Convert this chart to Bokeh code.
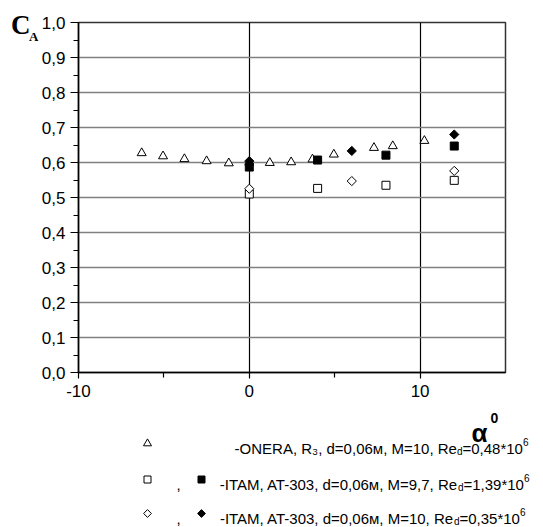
from bokeh.plotting import figure
from bokeh.models import FixedTicker, Range1d, Label, Div
from bokeh.layouts import column, row
from bokeh.embed import file_html
from bokeh.resources import INLINE

# ONERA, R3, d=0.06 m, M=10
onera_alpha = [-6.3, -5.05, -3.8, -2.5, -1.2, 0.0, 1.2, 2.45, 3.7, 4.95, 7.3, 8.4, 10.25]
onera_ca = [0.627, 0.618, 0.610, 0.604, 0.598, 0.600, 0.599, 0.601, 0.609, 0.623, 0.642, 0.647, 0.662]

# ITAM AT-303, M=9.7 (open / filled squares)
itam97_alpha = [0, 4, 8, 12]
itam97_ca_open = [0.510, 0.526, 0.535, 0.549]
itam97_ca_filled = [0.587, 0.607, 0.621, 0.647]

# ITAM AT-303, M=10 (open / filled diamonds)
itam10_alpha = [0, 6, 12]
itam10_ca_open = [0.525, 0.547, 0.576]
itam10_ca_filled = [0.604, 0.633, 0.680]

x_ticks = [-10, 0, 10]
x_tick_labels = ["-10", "0", "10"]
x_minor_ticks = [-5, 5]
y_ticks = [0.0, 0.1, 0.2, 0.3, 0.4, 0.5, 0.6, 0.7, 0.8, 0.9, 1.0]
y_tick_labels = ["0,0", "0,1", "0,2", "0,3", "0,4", "0,5", "0,6", "0,7", "0,8", "0,9", "1,0"]
y_minor_ticks = [0.05, 0.15, 0.25, 0.35, 0.45, 0.55, 0.65, 0.75, 0.85, 0.95]

# legend rows: open marker, filled marker, text before the "d" subscript, text after it
legend_rows = [
    ("triangle", None, "-ONERA, R₃, d=0,06м, M=10, Re", "=0,48*10"),
    ("square", "square", "-ITAM, AT-303, d=0,06м, M=9,7, Re", "=1,39*10"),
    ("diamond", "diamond", "-ITAM, AT-303, d=0,06м, M=10, Re", "=0,35*10"),
]

FONT = "Liberation Sans"
W, H = 543, 527
STRIP = 38          # narrow panel holding the C_A symbol
TOP_H = 406         # height of the chart row
LEFT, TOP, FW, FH = 77, 22, 428, 350


def put(f, text, x, y, size, font=FONT, style="normal", align="left"):
    f.add_layout(Label(x=x, y=y, text=text, text_font=font, text_font_size=f"{size}px",
                       text_font_style=style, text_align=align, text_baseline="alphabetic",
                       text_color="black"))


# ---- main chart ----
p = figure(width=W - STRIP, height=TOP_H, x_range=(-10, 15), y_range=(0, 1),
           output_backend="svg", toolbar_location=None,
           min_border_left=LEFT - STRIP, min_border_right=W - LEFT - FW,
           min_border_top=TOP, min_border_bottom=TOP_H - TOP - FH)
p.background_fill_color = "white"
p.border_fill_color = "white"
p.outline_line_color = "#333333"
p.outline_line_width = 1.5

p.xaxis.ticker = FixedTicker(ticks=x_ticks, minor_ticks=x_minor_ticks)
p.yaxis.ticker = FixedTicker(ticks=y_ticks, minor_ticks=y_minor_ticks)
p.xaxis.major_label_overrides = dict(zip(x_ticks, x_tick_labels))
p.yaxis.major_label_overrides = dict(zip(y_ticks, y_tick_labels))
for ax in (p.xaxis, p.yaxis):
    ax.axis_line_color = "black"
    ax.axis_line_width = 1.5
    ax.major_tick_line_color = "black"
    ax.minor_tick_line_color = "black"
    ax.major_tick_line_width = 1.2
    ax.minor_tick_line_width = 1.2
    ax.major_tick_in = 0
    ax.minor_tick_in = 0
    ax.major_label_text_font = FONT
    ax.major_label_text_font_size = "17px"
    ax.major_label_text_color = "black"
p.yaxis.major_tick_out = 8
p.yaxis.minor_tick_out = 5
p.yaxis.major_label_standoff = 5
p.xaxis.major_tick_out = 6
p.xaxis.minor_tick_out = 5
p.xaxis.major_label_standoff = 6

p.ygrid.grid_line_color = "#808080"
p.ygrid.grid_line_width = 1.3
p.xgrid.grid_line_color = "black"
p.xgrid.grid_line_width = 1.2

DIAMOND = 0.785398  # square turned by 45 degrees
p.scatter(onera_alpha, onera_ca, marker="triangle", size=9, fill_color="white",
          line_color="black", line_width=1)
p.scatter(itam97_alpha, itam97_ca_open, marker="square", size=8, fill_color="white",
          line_color="black", line_width=1)
p.scatter(itam10_alpha, itam10_ca_open, marker="square", angle=DIAMOND, size=6.5,
          fill_color="white", line_color="black", line_width=1)
p.scatter(itam97_alpha, itam97_ca_filled, marker="square", size=8, fill_color="black",
          line_color="black", line_width=1)
p.scatter(itam10_alpha, itam10_ca_filled, marker="square", angle=DIAMOND, size=6.5,
          fill_color="black", line_color="black", line_width=1)

# ---- C_A symbol (HTML strip left of the chart) ----
ca_html = (
    '<div style="position:relative;width:38px;height:406px;'
    "font-family:'Liberation Serif',serif;font-weight:bold;color:black\">"
    '<span style="position:absolute;left:11px;top:12px;font-size:27px;line-height:27px">C</span>'
    '<span style="position:absolute;left:29px;top:30px;font-size:13px;line-height:13px">A</span>'
    "</div>"
)
cdiv = Div(text=ca_html, width=STRIP, height=TOP_H, margin=0)

# ---- alpha symbol and legend ----
lg = figure(width=W, height=H - TOP_H, x_range=Range1d(0, W), y_range=Range1d(H - TOP_H, 0),
            output_backend="svg", toolbar_location=None, title=None,
            x_axis_type=None, y_axis_type=None,
            min_border_left=0, min_border_right=0, min_border_top=0, min_border_bottom=0)
lg.grid.visible = False
lg.outline_line_color = None
lg.background_fill_color = "white"
lg.border_fill_color = "white"

Y = TOP_H  # canvas y of the legend panel's top edge
put(lg, "α", 471, 432 - Y, 26, style="bold")
put(lg, "0", 490, 417 - Y, 14, style="bold")

# Arial-compatible advance widths (per 1000 em)
ADV = {"=": 584, ",": 278, "*": 389, "d": 556}


def width(s, size):
    return sum(ADV.get(c, 556) for c in s) / 1000 * size


def marker(kind, x, y, filled):
    angle = DIAMOND if kind == "diamond" else 0
    m = "square" if kind == "diamond" else kind
    size = {"triangle": 8, "square": 7, "diamond": 5.5}[kind]
    lg.scatter([x], [y], marker=m, angle=angle, size=size,
               fill_color="black" if filled else "white", line_color="black", line_width=1)


ROW_BASE = [448, 484, 518]
ROW_END = [528, 529, 525]
for (open_kind, filled_kind, head, tail), base, end in zip(legend_rows, ROW_BASE, ROW_END):
    b = base - Y
    marker(open_kind, 147, b - 5, False)
    if filled_kind:
        put(lg, ",", 178, b, 15, align="center")
        marker(filled_kind, 201, b - 5, True)
    # lay the row out from its right end so the sub/superscripts sit tight
    x_sup = end - width("6", 10)
    x_tail = x_sup - width(tail, 15)
    x_sub = x_tail - width("d", 10)
    put(lg, "6", x_sup, b - 7, 10)
    put(lg, tail, x_tail, b, 15)
    put(lg, "d", x_sub, b + 3, 10)
    put(lg, head, x_sub, b, 15, align="right")

layout = column(row(cdiv, p), lg)
open("out.html", "w").write(file_html(layout, INLINE))
